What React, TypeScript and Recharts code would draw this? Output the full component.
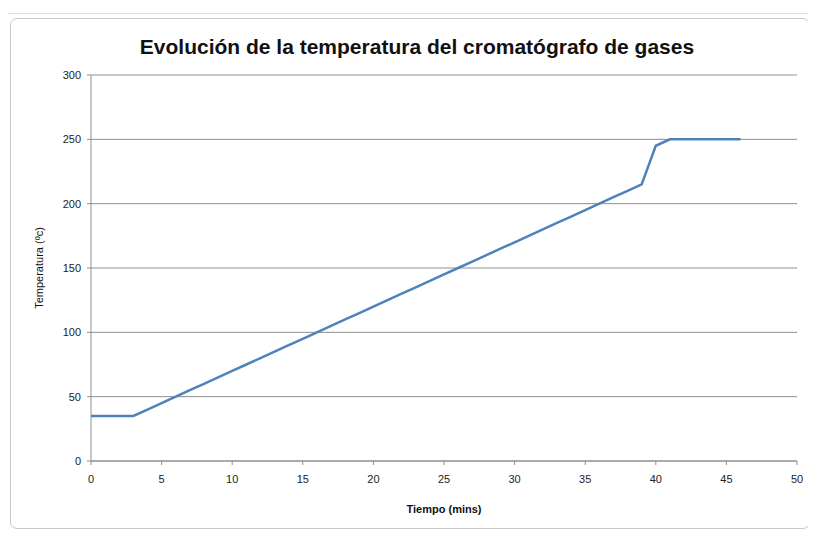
import React from "react";
import { LineChart, Line, XAxis, YAxis, CartesianGrid } from "recharts";

const times = [0, 1, 2, 3, 4, 5, 6, 7, 8, 9, 10, 11, 12, 13, 14, 15, 16, 17, 18, 19, 20, 21, 22, 23, 24, 25, 26, 27, 28, 29, 30, 31, 32, 33, 34, 35, 36, 37, 38, 39, 40, 41, 42, 43, 44, 45, 46];
const temps = [35, 35, 35, 35, 40, 45, 50, 55, 60, 65, 70, 75, 80, 85, 90, 95, 100, 105, 110, 115, 120, 125, 130, 135, 140, 145, 150, 155, 160, 165, 170, 175, 180, 185, 190, 195, 200, 205, 210, 215, 245, 250, 250, 250, 250, 250, 250];
const xTicks = [0, 5, 10, 15, 20, 25, 30, 35, 40, 45, 50];
const yTicks = [0, 50, 100, 150, 200, 250, 300];
const title = "Evolución de la temperatura del cromatógrafo de gases";
const xLabel = "Tiempo (mins)";
const yLabel = "Temperatura (ºc)";

const data = times.map((t, i) => ({ t, v: temps[i] }));

const FONT = "'Liberation Sans', Arial, sans-serif";

export default function App() {
  return (
    <div style={{ position: "relative", width: 808, height: 529, fontFamily: FONT }}>
      <div style={{ position: "absolute", left: 0, top: 5, width: 808, height: 1, background: "#cfe3ef" }} />
      <div
        style={{
          position: "absolute",
          left: 2,
          top: 10,
          width: 800,
          height: 511,
          border: "1px solid #c8c8c8",
          borderRadius: 7,
          boxSizing: "border-box",
        }}
      />
      <div
        style={{
          position: "absolute",
          left: 0,
          top: 27,
          width: 818,
          textAlign: "center",
          fontSize: 21,
          fontWeight: "bold",
          color: "#111",
          fontFamily: FONT,
        }}
      >
        {title}
      </div>
      <div style={{ position: "absolute", left: 0, top: 0 }}>
        <LineChart width={808} height={529} data={data} margin={{ top: 67, right: 19, bottom: 40, left: 22 }}>
          <CartesianGrid horizontal={true} vertical={false} stroke="#8f8f8f" strokeWidth={1} />
          <XAxis
            dataKey="t"
            type="number"
            domain={[0, 50]}
            ticks={xTicks}
            interval={0}
            stroke="#8f8f8f"
            tickSize={4}
            tickMargin={10}
            height={36}
            tick={{ fill: "#222", fontSize: 11, fontFamily: FONT }}
            label={{ value: xLabel, position: "insideBottom", offset: -16, fill: "#111", fontSize: 11, fontWeight: "bold", fontFamily: FONT }}
          />
          <YAxis
            type="number"
            domain={[0, 300]}
            ticks={yTicks}
            interval={0}
            stroke="#8f8f8f"
            tickSize={4}
            tickMargin={6}
            width={61}
            tick={{ fill: "#222", fontSize: 11, fontFamily: FONT }}
            label={{ value: yLabel, angle: -90, position: "insideLeft", offset: 9, fill: "#111", fontSize: 11, fontFamily: FONT, style: { textAnchor: "middle" } }}
          />
          <Line
            type="linear"
            dataKey="v"
            stroke="#4f81bd"
            strokeWidth={2.5}
            dot={false}
            isAnimationActive={false}
          />
        </LineChart>
      </div>
    </div>
  );
}
